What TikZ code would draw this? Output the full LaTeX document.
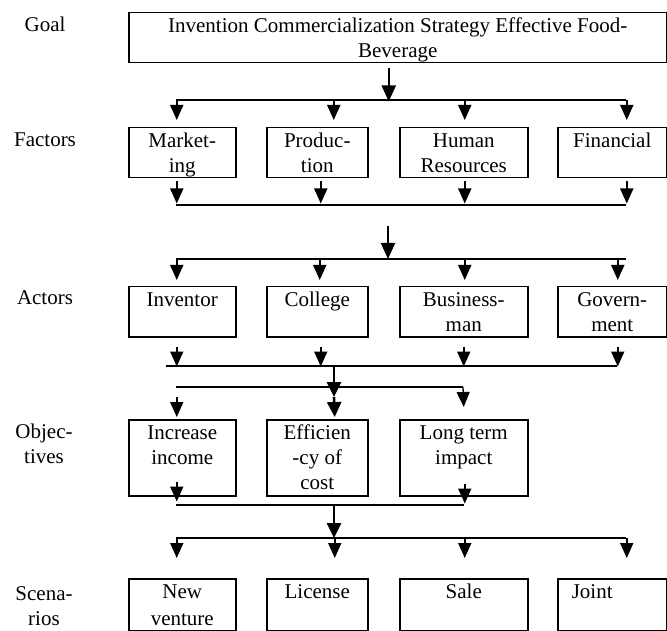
\documentclass[tikz,border=0pt]{standalone}
\usepackage{fontspec}
\setmainfont{Liberation Serif}
\usetikzlibrary{arrows.meta, calc}
\newcommand{\cell}[3]{\parbox[t][#2pt][t]{#1pt}{\centering\rule{0pt}{20pt}#3}}

\begin{document}
\begin{tikzpicture}[
      x=1pt, y=-1pt,
      every node/.style={font=\fontsize{21}{25}\selectfont},
      box/.style={draw, line width=1.5pt, inner sep=0pt, anchor=north west},
      rowlab/.style={anchor=base, inner sep=0pt},
      bus/.style={line width=1.3pt},
      arr/.style={line width=1.8pt, -{Triangle[length=15pt, width=13pt]}},
      bigarr/.style={line width=2pt, -{Triangle[length=16pt, width=14pt]}},
      thk/.style={line width=2.6pt, -{Triangle[length=15pt, width=14pt]}}
    ]
      \useasboundingbox (0,0) rectangle (667,631);

      \node[rowlab] (lgoal) at (45,32) {Goal};
      \node[rowlab] (lfac) at (45,147) {Factors};
      \node[rowlab] (lact) at (45,305) {Actors};
      \node[rowlab] (lobj) at (44,438) {\parbox[t]{70pt}{\centering Objec-\\tives}};
      \node[rowlab] (lscn) at (44,600) {\parbox[t]{70pt}{\centering Scena-\\rios}};

      \node[box] (goal) at (128,12) {\cell{538}{50}{Invention Commercialization Strategy Effective Food-\\Beverage}};

      \node[box] (mkt) at (128,127) {\cell{107}{50}{Market-\\ing}};
      \node[box] (prod) at (266,127) {\cell{101}{50}{Produc-\\tion}};
      \node[box] (hr) at (399,127) {\cell{128}{50}{Human\\Resources}};
      \node[box] (fin) at (557,127) {\cell{109}{50}{Financial}};

      \node[box] (inv) at (128,286) {\cell{107}{50}{Inventor}};
      \node[box] (col) at (266,286) {\cell{101}{50}{College}};
      \node[box] (biz) at (399,286) {\cell{128}{50}{Business-\\man}};
      \node[box] (gov) at (557,286) {\cell{109}{50}{Govern-\\ment}};

      \node[box] (inc) at (128,419) {\cell{107}{76}{Increase\\income}};
      \node[box] (eff) at (266,419) {\cell{101}{76}{Efficien\\-cy of\\cost}};
      \node[box] (imp) at (399,419) {\cell{128}{76}{Long term\\impact}};

      \node[box] (ven) at (128,578) {\cell{107}{52}{\vspace{2pt}New\\venture}};
      \node[box] (lic) at (266,578) {\cell{101}{52}{\vspace{2pt}License}};
      \node[box] (sale) at (399,578) {\cell{128}{52}{\vspace{2pt}Sale}};
      \node[box] (joint) at (557,578) {\cell{109}{52}{\raggedright\hspace*{14pt}Joint}};

      \coordinate (b1w) at (176,100); \coordinate (b1e) at (626,100);
      \coordinate (b2w) at (176,205); \coordinate (b2e) at (626,205);
      \coordinate (m2) at (388,226);
      \coordinate (b3w) at (176,259); \coordinate (b3e) at (626,259);
      \coordinate (b4w) at (166,366); \coordinate (b4e) at (617,366);
      \coordinate (m4) at (334,366);
      \coordinate (m5) at (334,397);
      \coordinate (b5w) at (176,387); \coordinate (b5e) at (463,387);
      \coordinate (b6w) at (176,505); \coordinate (b6e) at (464,505);
      \coordinate (m6) at (334,505);
      \coordinate (b7w) at (176,538); \coordinate (b7e) at (626,538);

      \draw[bigarr] ($(goal.south)+(-9,5)$) -- ++(0,33);
      \draw[bus] (b1w) -- (b1e);
      \foreach \b/\dx in {mkt/-5.5, prod/16.5, hr/1, fin/14.5}
        \draw[arr] ($(\b.north)+(\dx,-27)$) -- ++(0,20);

      \foreach \b/\dx in {mkt/-5.5, prod/3.5, hr/1, fin/14.5}
        \draw[arr] ($(\b.south)+(\dx,3)$) -- ++(0,22);
      \draw[bus] (b2w) -- (b2e);

      \draw[bigarr] (m2) -- (m2 |- b3w);
      \draw[bus] (b3w) -- (b3e);
      \foreach \b/\dx in {inv/-5.5, col/2.5, biz/1, gov/5.5}
        \draw[arr] ($(\b.north)+(\dx,-27)$) -- ++(0,21);

      \foreach \b/\dx in {inv/-5.5, col/3.5, biz/0, gov/5.5}
        \draw[arr] ($(\b.south)+(\dx,9)$) -- ++(0,20);
      \draw[bus] (b4w) -- (b4e);

      \draw[thk] (m4) -- (m5);
      \draw[bus] (b5w) -- (b5e);
      \draw[thk] (m5) -- ($(eff.north)+(17.5,-2)$);
      \draw[arr] ($(inc.north)+(-5.5,-22)$) -- ++(0,20);
      \draw[bus, -{Triangle[length=15pt, width=13pt]}] (b5e) -- ($(imp.north)+(0,-12)$);

      \draw[arr] ($(inc.south)+(-5.5,-15)$) -- ++(0,20);
      \draw[arr] ($(imp.south)+(1,-13)$) -- ++(0,20);
      \draw[bus] (b6w) -- (b6e);

      \draw[thk] (m6) -- (m6 |- b7w);
      \draw[bus] (b7w) -- (b7e);
      \foreach \b/\dx in {ven/-5.5, lic/17.5, sale/1, joint/14.5}
        \draw[arr] ($(\b.north)+(\dx,-40)$) -- ++(0,20);
    \end{tikzpicture}
\end{document}
